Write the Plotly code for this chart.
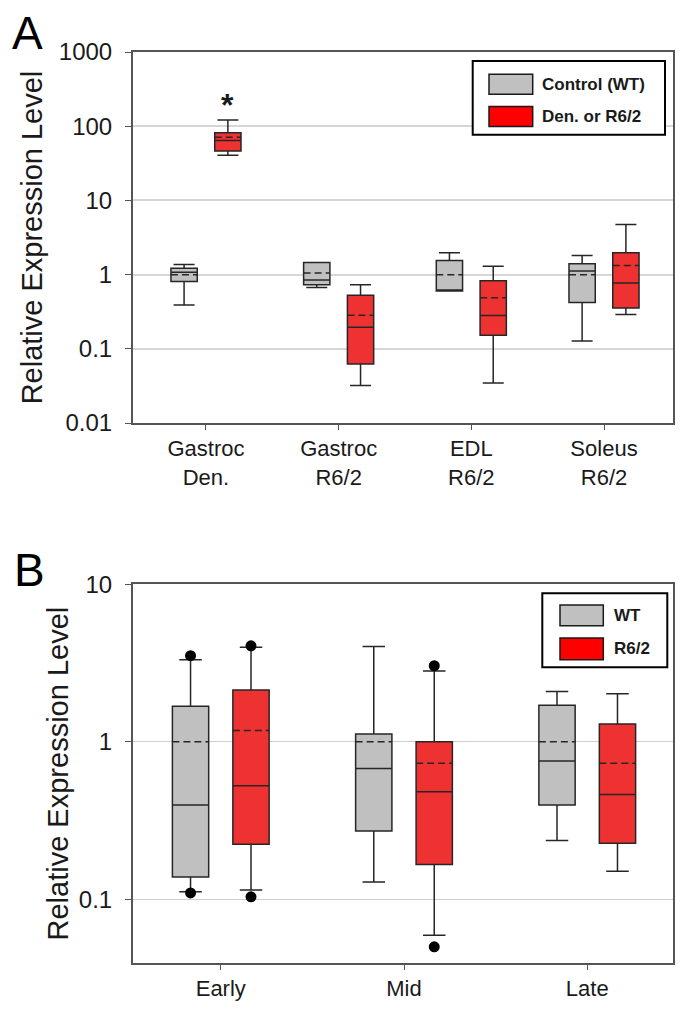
import plotly.graph_objects as go

# ---------------- Panel A data ----------------
cats_a = ["Gastroc<br>Den.", "Gastroc<br>R6/2", "EDL<br>R6/2", "Soleus<br>R6/2"]
a_ctrl_low = [0.39, 0.67, 0.60, 0.128]
a_ctrl_q1 = [0.81, 0.73, 0.60, 0.42]
a_ctrl_med = [1.08, 0.85, 0.62, 1.12]
a_ctrl_q3 = [1.22, 1.46, 1.55, 1.40]
a_ctrl_up = [1.37, 1.46, 1.97, 1.81]
a_ctrl_mean = [1.00, 1.05, 1.00, 1.00]

a_dis_low = [40.7, 0.032, 0.0348, 0.29]
a_dis_q1 = [46.5, 0.0625, 0.152, 0.356]
a_dis_med = [64.0, 0.196, 0.281, 0.77]
a_dis_q3 = [81.9, 0.527, 0.83, 1.97]
a_dis_up = [121.0, 0.733, 1.30, 4.73]
a_dis_mean = [71.0, 0.284, 0.49, 1.33]

a_yticks = [0.01, 0.1, 1, 10, 100, 1000]
a_yticktext = ["0.01", "0.1", "1", "10", "100", "1000"]
a_names = ["Control (WT)", "Den. or R6/2"]

# ---------------- Panel B data ----------------
cats_b = ["Early", "Mid", "Late"]
b_wt_low = [0.112, 0.129, 0.237]
b_wt_q1 = [0.139, 0.272, 0.397]
b_wt_med = [0.397, 0.678, 0.755]
b_wt_q3 = [1.68, 1.12, 1.71]
b_wt_up = [3.32, 4.03, 2.09]
b_wt_mean = [1.00, 1.00, 1.00]

b_r6_low = [0.115, 0.0594, 0.151]
b_r6_q1 = [0.224, 0.167, 0.227]
b_r6_med = [0.527, 0.483, 0.464]
b_r6_q3 = [2.13, 1.00, 1.30]
b_r6_up = [3.99, 2.82, 2.02]
b_r6_mean = [1.18, 0.733, 0.733]

b_wt_out_x = ["Early", "Early"]
b_wt_out_y = [3.52, 0.110]
b_r6_out_x = ["Early", "Early", "Mid", "Mid"]
b_r6_out_y = [4.07, 0.104, 3.04, 0.0501]

b_yticks = [0.1, 1, 10]
b_yticktext = ["0.1", "1", "10"]
b_names = ["WT", "R6/2"]

# ---------------- styling ----------------
GRAY = "#c0c0c0"
RED = "#ee3232"
LEG_RED = "#ff0000"
LINE = "#262626"
AXIS = "#555555"
FONT = "Liberation Sans, Arial, sans-serif"

W, H = 688, 1013
LM, RM, TM, BM = 133, 15, 52, 47


def px(x):
    return (x - LM) / (W - LM - RM)


def py(y):
    return (H - BM - y) / (H - TM - BM)


fig = go.Figure()


def add_box(x, low, q1, med, q3, up, mean, fill, name, xa, ya, ww):
    fig.add_trace(go.Box(
        x=x, lowerfence=low, q1=q1, median=med, q3=q3, upperfence=up, mean=mean,
        boxmean=True, fillcolor=fill, name=name, whiskerwidth=ww,
        line=dict(color=LINE, width=1.5), boxpoints=False,
        xaxis=xa, yaxis=ya, showlegend=False, offsetgroup=name,
    ))


add_box(cats_a, a_ctrl_low, a_ctrl_q1, a_ctrl_med, a_ctrl_q3, a_ctrl_up, a_ctrl_mean,
        GRAY, a_names[0], "x", "y", 0.8)
add_box(cats_a, a_dis_low, a_dis_q1, a_dis_med, a_dis_q3, a_dis_up, a_dis_mean,
        RED, a_names[1], "x", "y", 0.8)
add_box(cats_b, b_wt_low, b_wt_q1, b_wt_med, b_wt_q3, b_wt_up, b_wt_mean,
        GRAY, b_names[0], "x2", "y2", 0.62)
add_box(cats_b, b_r6_low, b_r6_q1, b_r6_med, b_r6_q3, b_r6_up, b_r6_mean,
        RED, b_names[1], "x2", "y2", 0.62)

for ox, oy, grp in [(b_wt_out_x, b_wt_out_y, b_names[0]), (b_r6_out_x, b_r6_out_y, b_names[1])]:
    fig.add_trace(go.Scatter(
        x=ox, y=oy, mode="markers", xaxis="x2", yaxis="y2", offsetgroup=grp,
        marker=dict(color="black", size=11), showlegend=False,
    ))

common_y = dict(
    type="log", showgrid=True, ticks="outside", ticklen=6, tickcolor=AXIS,
    showline=True, linecolor=AXIS, linewidth=2, mirror=True, zeroline=False,
    tickmode="array", tickfont=dict(size=24, color="#1a1a1a", family=FONT),
    ticklabelstandoff=8,
)
common_x = dict(
    type="category", showgrid=False, ticks="outside", ticklen=5, tickcolor=AXIS,
    showline=True, linecolor=AXIS, linewidth=2, mirror=True, zeroline=False,
    tickfont=dict(size=22, color="#1a1a1a", family=FONT),
)

fig.update_layout(
    width=W, height=H, margin=dict(l=LM, r=RM, t=TM, b=BM),
    paper_bgcolor="white", plot_bgcolor="white",
    font=dict(family=FONT, color="#1a1a1a"),
    boxmode="group", boxgap=0.34, boxgroupgap=0.4,
    scattermode="group", scattergap=0.34,
    xaxis=dict(common_x, domain=[0, 1], anchor="y", range=[-0.55, 3.52],
               categoryorder="array", categoryarray=cats_a),
    yaxis=dict(common_y, domain=[py(424.3), 1], anchor="x", range=[-2, 3],
               tickvals=a_yticks, ticktext=a_yticktext, gridcolor="#d6d6d6", gridwidth=2,
               title=dict(text="Relative Expression Level", standoff=8,
                          font=dict(size=29, color="#1a1a1a", family=FONT))),
    xaxis2=dict(common_x, domain=[0, 1], anchor="y2", range=[-0.479, 2.468],
                categoryorder="array", categoryarray=cats_b),
    yaxis2=dict(common_y, domain=[0, py(586)], anchor="x2", range=[-1.403, 1],
                tickvals=b_yticks, ticktext=b_yticktext, gridcolor="#cfcfcf", gridwidth=1,
                title=dict(text="Relative Expression Level", standoff=2,
                           font=dict(size=29, color="#1a1a1a", family=FONT))),
)

# asterisk above denervated box
fig.add_annotation(x=cats_a[0], y=2.29, xref="x", yref="y", text="<b>*</b>", showarrow=False,
                   xshift=22, font=dict(size=32, color="#1a1a1a", family=FONT), yanchor="middle")

# panel letters
fig.add_annotation(x=px(27), y=py(33), xref="paper", yref="paper", text="A", showarrow=False,
                   font=dict(size=46, color="black", family=FONT), xanchor="center", yanchor="middle")
fig.add_annotation(x=px(29), y=py(572), xref="paper", yref="paper", text="B", showarrow=False,
                   font=dict(size=46, color="black", family=FONT), xanchor="center", yanchor="middle")


def legend_box(x0, x1, y0, y1, sw_x0, sw_x1, sw1, sw2, tx, names):
    fig.add_shape(type="rect", xref="paper", yref="paper", x0=px(x0), x1=px(x1), y0=py(y1), y1=py(y0),
                  line=dict(color="black", width=2), fillcolor="white", layer="above")
    for (ya, yb), col, nm in [(sw1, GRAY, names[0]), (sw2, LEG_RED, names[1])]:
        fig.add_shape(type="rect", xref="paper", yref="paper", x0=px(sw_x0), x1=px(sw_x1),
                      y0=py(yb), y1=py(ya), line=dict(color="#1a1a1a", width=1.5), fillcolor=col,
                      layer="above")
        fig.add_annotation(x=px(tx), y=py((ya + yb) / 2), xref="paper", yref="paper",
                           text="<b>%s</b>" % nm, showarrow=False, xanchor="left", yanchor="middle",
                           font=dict(size=17, color="#1a1a1a", family=FONT))


legend_box(472.7, 665, 61, 135, 489, 532.7, (74.3, 94.3), (106.7, 126.7), 540, a_names)
legend_box(542.3, 667.3, 595, 669.3, 560, 603.3, (606.7, 627.7), (640, 661.7), 612, b_names)

post = (
    "document.body.style.margin='0';"
    "document.querySelectorAll('path.mean').forEach(function(p){"
    "p.style.strokeDasharray='7px,4px';});"
)
fig.write_html("out.html", post_script=post, config={"displayModeBar": False})
